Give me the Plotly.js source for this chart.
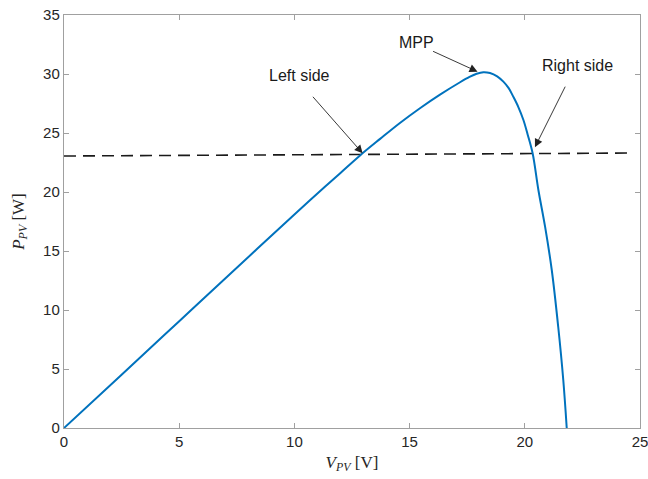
<!DOCTYPE html>
<html>
<head>
<meta charset="utf-8">
<script src="https://cdn.plot.ly/plotly-3.0.1.min.js"></script>
<style>html,body{margin:0;padding:0;background:#fff;}#chart{width:648px;height:479px;}</style>
</head>
<body>
<div id="chart"></div>
<script>
// PV power curve
const voltage = [0, 2.5, 5, 7.5, 10, 11, 12, 12.85, 13.72, 14.58, 15.45, 16.32, 17.19, 17.6, 17.91, 18.2, 18.49, 18.8, 19.07, 19.3, 19.5, 19.72, 19.94, 20.12, 20.34, 20.59, 20.88, 21.17, 21.45, 21.67, 21.82];
const power   = [0, 4.52, 9.05, 13.58, 18.1, 19.88, 21.62, 23.1, 24.5, 25.85, 27.1, 28.25, 29.3, 29.75, 30.02, 30.15, 30.08, 29.8, 29.35, 28.8, 28.08, 27.2, 26.1, 24.9, 23.28, 20.17, 17.06, 13.39, 8.58, 4.07, 0];
// reference power level (dashed)
const refV = [0, 24.5];
const refP = [23.05, 23.3];
// annotated points
const labels = ["Left side", "MPP", "Right side"];
const pointV = [12.96, 17.95, 20.44];
const pointP = [23.28, 30.2, 23.8];
const arrowAx = [-51, -46, 31];
const arrowAy = [-58, -21, -62];
const labelV = [10.2, 15.3, 22.3];
const labelP = [29.9, 32.7, 30.7];

const axisCol = '#a0a0a0';
const textCol = '#262626';
const fontFam = 'Liberation Sans, Arial, Helvetica, sans-serif';

const traces = [
  {x: refV, y: refP, mode: 'lines', line: {color: '#1a1a1a', width: 1.6, dash: '12px,7px'}, hoverinfo: 'skip'},
  {x: voltage, y: power, mode: 'lines', line: {color: '#0072BD', width: 2, shape: 'spline', smoothing: 1}}
];

const annotations = [];
for (let i = 0; i < labels.length; i++) {
  annotations.push({x: pointV[i], y: pointP[i], xref: 'x', yref: 'y', ax: arrowAx[i], ay: arrowAy[i],
    text: '', showarrow: true, arrowhead: 2, arrowsize: 1.8, arrowwidth: 0.9, arrowcolor: '#222'});
  annotations.push({x: labelV[i], y: labelP[i], xref: 'x', yref: 'y', text: labels[i], showarrow: false,
    font: {family: fontFam, size: 16, color: '#1a1a1a'}});
}

const axisCommon = {
  showgrid: false, zeroline: false, showline: true, linecolor: axisCol, linewidth: 1.2,
  mirror: 'ticks', ticks: 'inside', ticklen: 5, tickcolor: axisCol, tickwidth: 1,
  ticklabeloverflow: 'allow',
  tickfont: {family: fontFam, size: 15, color: textCol}
};

const layout = {
  width: 648, height: 479,
  margin: {l: 64, r: 8, t: 15, b: 51},
  paper_bgcolor: '#fff', plot_bgcolor: '#fff',
  showlegend: false,
  xaxis: Object.assign({}, axisCommon, {range: [0, 25], tickvals: [0, 5, 10, 15, 20, 25],
    title: {text: '<i>V</i><sub><i>PV</i></sub> [V]', font: {family: 'Liberation Serif, Times New Roman, serif', size: 17, color: textCol}, standoff: 6}}),
  yaxis: Object.assign({}, axisCommon, {range: [0, 35], tickvals: [0, 5, 10, 15, 20, 25, 30, 35],
    title: {text: '<i>P</i><sub><i>PV</i></sub> [W]', font: {family: 'Liberation Serif, Times New Roman, serif', size: 17, color: textCol}, standoff: 14}}),
  annotations: annotations
};

Plotly.newPlot('chart', traces, layout, {displayModeBar: false, staticPlot: true});
</script>
</body>
</html>
